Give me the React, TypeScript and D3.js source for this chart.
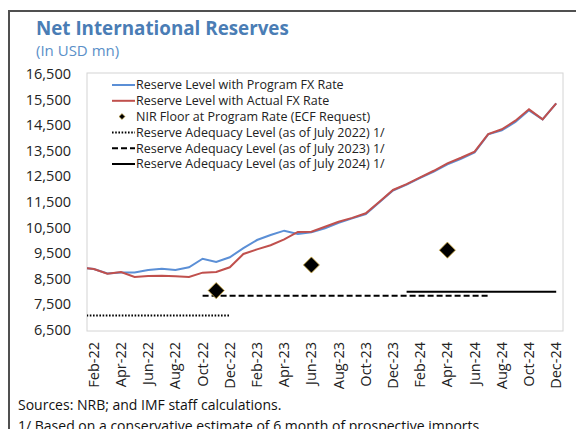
import React from "react";
import * as d3 from "d3";

const months = [
  "Jan-22","Feb-22","Mar-22","Apr-22","May-22","Jun-22","Jul-22","Aug-22","Sep-22","Oct-22","Nov-22","Dec-22",
  "Jan-23","Feb-23","Mar-23","Apr-23","May-23","Jun-23","Jul-23","Aug-23","Sep-23","Oct-23","Nov-23","Dec-23",
  "Jan-24","Feb-24","Mar-24","Apr-24","May-24","Jun-24","Jul-24","Aug-24","Sep-24","Oct-24","Nov-24","Dec-24",
];

const programFx = [
  8950, 8880, 8710, 8750, 8750, 8840, 8895, 8840, 8950, 9285, 9155, 9340,
  9700, 10015, 10210, 10380, 10250, 10315, 10470, 10690, 10860, 11030, 11490, 11950,
  12180, 12440, 12690, 12970, 13190, 13440, 14140, 14300, 14630, 15080, 14730, 15355,
];

const actualFx = [
  8950, 8880, 8700, 8765, 8570, 8610, 8620, 8600, 8570, 8740, 8765, 8950,
  9470, 9650, 9810, 10040, 10330, 10340, 10535, 10730, 10880, 11060, 11510, 11970,
  12200, 12465, 12720, 13010, 13230, 13465, 14155, 14340, 14675, 15120, 14730, 15355,
];

const nirMonths = ["Nov-22", "Jun-23", "Apr-24"];
const nirValues = [8040, 9040, 9620];

const adequacyStart = ["Jan-22", "Oct-22", "Jan-24"];
const adequacyEnd = ["Dec-22", "Jul-24", "Dec-24"];
const adequacyValues = [7070, 7840, 7990];
const adequacyDash = ["1.6 1.6", "6 3", "none"];

const yTicks = [6500, 7500, 8500, 9500, 10500, 11500, 12500, 13500, 14500, 15500, 16500];
const xLabels = months.filter((_, i) => i % 2 === 1);

const legendLabels = [
  "Reserve Level with Program FX Rate",
  "Reserve Level with Actual FX Rate",
  "NIR Floor at Program Rate (ECF Request)",
  "Reserve Adequacy Level (as of July 2022) 1/",
  "Reserve Adequacy Level (as of July 2023) 1/",
  "Reserve Adequacy Level (as of July 2024) 1/",
];

const BLUE = "#5b8fd6";
const RED = "#c0504d";
const FONT = "'Open Sans', 'Noto Sans', sans-serif";

export default function App() {
  const W = 576, H = 429;
  const plotL = 87, plotR = 563, plotT = 73, plotB = 331;
  const step = (plotR - plotL) / 35;
  const x = d3.scalePoint<string>().domain(months).range([plotL - step / 2, plotR - step / 2]);
  const y = d3.scaleLinear().domain([6500, 16500]).range([330, 74]);

  const line = d3.line<number>().x((_, i) => x(months[i]) as number).y((d) => y(d));

  const square = d3.symbol().type(d3.symbolSquare);

  const legX = 112, legY0 = 85, legDy = 15.8;

  return (
    <svg width={W} height={H} style={{ position: "absolute", left: 0, top: 0, background: "#fff" }} fontFamily={FONT}>
      <defs>
        <clipPath id="plotclip">
          <rect x={plotL} y={plotT} width={plotR - plotL} height={plotB - plotT} />
        </clipPath>
      </defs>
      {/* outer frame */}
      <line x1={9} y1={11} x2={W} y2={11} stroke="#505050" strokeWidth={2} />
      <line x1={9} y1={10} x2={9} y2={H} stroke="#505050" strokeWidth={2} />

      <text x={36} y={35} fontSize={18.8} fontWeight={700} fill="#4a7db5">Net International Reserves</text>
      <text x={36} y={56} fontSize={15} fill="#5a8fc8">(In USD mn)</text>

      {/* plot border */}
      <rect x={plotL} y={plotT} width={plotR - plotL} height={plotB - plotT} fill="none" stroke="#d4d4d4" strokeWidth={1} />

      {/* y tick labels */}
      {yTicks.map((t) => (
        <text key={t} x={71} y={y(t)} dy="0.35em" textAnchor="end" fontSize={14.5} fill="#222">
          {d3.format(",")(t)}
        </text>
      ))}

      {/* x labels */}
      {xLabels.map((m) => (
        <text key={m} transform={`translate(${(x(m) as number) + 5},342) rotate(-90)`} textAnchor="end" fontSize={14.5} fill="#222">
          {m}
        </text>
      ))}

      <g clipPath="url(#plotclip)">
        {adequacyValues.map((v, i) => (
          <line key={i} x1={x(adequacyStart[i])} x2={x(adequacyEnd[i])} y1={y(v)} y2={y(v)} stroke="#000" strokeWidth={2}
            strokeDasharray={adequacyDash[i]} />
        ))}
        <path d={line(programFx) || ""} fill="none" stroke={BLUE} strokeWidth={2} />
        <path d={line(actualFx) || ""} fill="none" stroke={RED} strokeWidth={2} />
      </g>

      {nirValues.map((v, i) => (
        <path key={i} d={square.size(130)() || ""} transform={`translate(${x(nirMonths[i])},${y(v)}) rotate(45)`} fill="#000" stroke="#d6b24a" strokeWidth={0.8} />
      ))}

      {/* legend */}
      {legendLabels.map((lab, i) => {
        const ly = legY0 + i * legDy;
        let marker;
        if (i === 0) marker = <line x1={legX} x2={legX + 23} y1={ly} y2={ly} stroke={BLUE} strokeWidth={2} />;
        else if (i === 1) marker = <line x1={legX} x2={legX + 23} y1={ly} y2={ly} stroke={RED} strokeWidth={2} />;
        else if (i === 2) marker = <path d={square.size(18)() || ""} transform={`translate(${legX + 10},${ly}) rotate(45)`} fill="#000" stroke="#d6b24a" strokeWidth={0.6} />;
        else marker = <line x1={legX} x2={legX + 23} y1={ly} y2={ly} stroke="#000" strokeWidth={2} strokeDasharray={adequacyDash[i - 3]} />;
        return (
          <g key={i}>
            {marker}
            <text x={legX + 24} y={ly} dy="0.35em" fontSize={12.5} fill="#222">{lab}</text>
          </g>
        );
      })}

      <text x={18} y={410} fontSize={14} fill="#111">Sources: NRB; and IMF staff calculations.</text>
      <text x={18} y={431} fontSize={14} fill="#111">1/ Based on a conservative estimate of 6 month of prospective imports.</text>
    </svg>
  );
}
